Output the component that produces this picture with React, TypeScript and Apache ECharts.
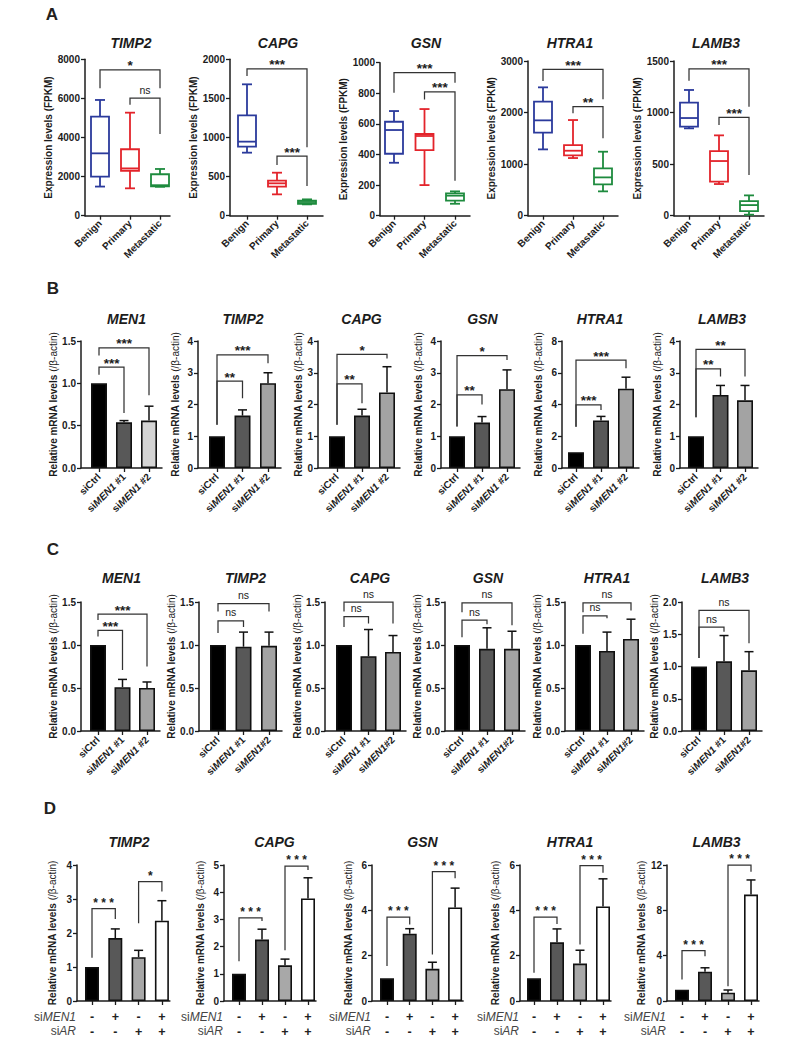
import React, { useEffect, useRef } from "react";
import * as echarts from "echarts";

const FONT = "'Liberation Sans', Arial, Helvetica, sans-serif";
const INK = "#1c1c1c";

// ================= Panel A: expression (FPKM) box plots =================
const groupsA = ["Benign", "Primary", "Metastatic"];
const genesA = ["TIMP2", "CAPG", "GSN", "HTRA1", "LAMB3"];
// [min, Q1, median, Q3, max]
const boxA_TIMP2 = [[1490, 2000, 3190, 5070, 5920], [1400, 2300, 2420, 3400, 5270], [1480, 1500, 1560, 2120, 2390]];
const boxA_CAPG = [[806, 883, 947, 1284, 1680], [273, 371, 414, 448, 550], [145, 150, 175, 192, 209]];
const boxA_GSN = [[346, 405, 560, 614, 684], [200, 429, 521, 534, 697], [78, 98, 131, 146, 159]];
const boxA_HTRA1 = [[1286, 1610, 1849, 2211, 2489], [1118, 1170, 1260, 1370, 1855], [472, 608, 743, 918, 1241]];
const boxA_LAMB3 = [[847, 863, 947, 1096, 1219], [307, 330, 530, 627, 779], [10, 45, 103, 142, 197]];
// brackets: [from, to, lineY, leftLegEnd, rightLegEnd]
const sigA_TIMP2 = [[0, 2, 7460, 6520, 6520], [1, 2, 6010, 5670, 4180]];
const sigA_CAPG = [[0, 2, 1876, 1787, 874], [1, 2, 763, 648, 380]];
const sigA_GSN = [[0, 2, 935, 804, 869], [1, 2, 810, 760, 229]];
const sigA_HTRA1 = [[0, 2, 2838, 2611, 2256], [1, 2, 2114, 1985, 1500]];
const sigA_LAMB3 = [[0, 2, 1423, 1309, 1057], [1, 2, 954, 879, 394]];
const sigLabA_TIMP2 = ["*", "ns"];
const sigLabA_CAPG = ["***", "***"];
const sigLabA_GSN = ["***", "***"];
const sigLabA_HTRA1 = ["***", "**"];
const sigLabA_LAMB3 = ["***", "***"];
const yMaxA = [8000, 2000, 1000, 3000, 1500];
const yStepA = [2000, 500, 200, 1000, 500];

// ================= Panel B: siMEN1 knockdown =================
const labelsB = ["siCtrl", "siMEN1 #1", "siMEN1 #2"];
const genesB = ["MEN1", "TIMP2", "CAPG", "GSN", "HTRA1", "LAMB3"];
const meanB_MEN1 = [1.0, 0.54, 0.56];
const errB_MEN1 = [null, 0.56, 0.73];
const meanB_TIMP2 = [1.0, 1.65, 2.67];
const errB_TIMP2 = [null, 1.83, 3.0];
const meanB_CAPG = [1.0, 1.65, 2.38];
const errB_CAPG = [null, 1.85, 3.19];
const meanB_GSN = [1.0, 1.43, 2.48];
const errB_GSN = [null, 1.62, 3.09];
const meanB_HTRA1 = [1.0, 3.0, 5.0];
const errB_HTRA1 = [null, 3.25, 5.72];
const meanB_LAMB3 = [1.0, 2.3, 2.13];
const errB_LAMB3 = [null, 2.6, 2.6];
const sigB_MEN1 = [[0, 2, 1.42, 1.33, 0.86], [0, 1, 1.19, 1.1, 0.65]];
const sigB_TIMP2 = [[0, 2, 3.56, 1.36, 3.3], [0, 1, 2.74, 1.36, 2.2]];
const sigB_CAPG = [[0, 2, 3.58, 1.36, 3.45], [0, 1, 2.65, 1.36, 2.04]];
const sigB_GSN = [[0, 2, 3.54, 1.31, 3.4], [0, 1, 2.3, 1.31, 2.0]];
const sigB_HTRA1 = [[0, 2, 6.8, 2.6, 6.28], [0, 1, 3.98, 2.6, 3.66]];
const sigB_LAMB3 = [[0, 2, 3.74, 1.6, 2.88], [0, 1, 3.12, 1.6, 2.88]];
const sigLabB_MEN1 = ["***", "***"];
const sigLabB_TIMP2 = ["***", "**"];
const sigLabB_CAPG = ["*", "**"];
const sigLabB_GSN = ["*", "**"];
const sigLabB_HTRA1 = ["***", "***"];
const sigLabB_LAMB3 = ["**", "**"];
const yMaxB = [1.5, 4, 4, 4, 8, 4];
const yStepB = [0.5, 1, 1, 1, 2, 1];
const yDecB = [1, 0, 0, 0, 0, 0];

// ================= Panel C =================
const labelsC_MEN1 = ["siCtrl", "siMEN1 #1", "siMEN1 #2"];
const labelsC_other = ["siCtrl", "siMEN1 #1", "siMEN1#2"];
const genesC = ["MEN1", "TIMP2", "CAPG", "GSN", "HTRA1", "LAMB3"];
const meanC_MEN1 = [1.0, 0.51, 0.5];
const errC_MEN1 = [null, 0.6, 0.57];
const meanC_TIMP2 = [1.0, 0.98, 0.99];
const errC_TIMP2 = [null, 1.15, 1.15];
const meanC_CAPG = [1.0, 0.87, 0.92];
const errC_CAPG = [null, 1.18, 1.11];
const meanC_GSN = [1.0, 0.955, 0.955];
const errC_GSN = [null, 1.2, 1.16];
const meanC_HTRA1 = [1.0, 0.93, 1.07];
const errC_HTRA1 = [null, 1.15, 1.3];
const meanC_LAMB3 = [1.0, 1.08, 0.94];
const errC_LAMB3 = [null, 1.48, 1.23];
const sigC_MEN1 = [[0, 2, 1.36, 1.29, 0.75], [0, 1, 1.17, 1.1, 0.71]];
const sigC_TIMP2 = [[0, 2, 1.48, 1.39, 1.39], [0, 1, 1.28, 1.14, 1.21]];
const sigC_CAPG = [[0, 2, 1.5, 1.39, 1.25], [0, 1, 1.33, 1.21, 1.25]];
const sigC_GSN = [[0, 2, 1.49, 1.38, 1.23], [0, 1, 1.29, 1.09, 1.24]];
const sigC_HTRA1 = [[0, 2, 1.49, 1.38, 1.4], [0, 1, 1.34, 1.13, 1.31]];
const sigC_LAMB3 = [[0, 2, 1.87, 1.13, 1.36], [0, 1, 1.61, 1.13, 1.54]];
const sigLabC_MEN1 = ["***", "***"];
const sigLabC_ns = ["ns", "ns"];
const yMaxC = [1.5, 1.5, 1.5, 1.5, 1.5, 2.0];
const yStepC = [0.5, 0.5, 0.5, 0.5, 0.5, 0.5];

// ================= Panel D: siMEN1 / siAR =================
const genesD = ["TIMP2", "CAPG", "GSN", "HTRA1", "LAMB3"];
const signMEN1 = ["-", "+", "-", "+"];
const signAR = ["-", "-", "+", "+"];
const meanD_TIMP2 = [1.0, 1.85, 1.29, 2.36];
const errD_TIMP2 = [null, 2.12, 1.49, 2.95];
const meanD_CAPG = [1.0, 2.26, 1.31, 3.77];
const errD_CAPG = [null, 2.64, 1.54, 4.53];
const meanD_GSN = [1.0, 2.97, 1.42, 4.13];
const errD_GSN = [null, 3.19, 1.71, 4.98];
const meanD_HTRA1 = [1.0, 2.59, 1.65, 4.17];
const errD_HTRA1 = [null, 3.18, 2.24, 5.39];
const meanD_LAMB3 = [1.0, 2.58, 0.73, 9.39];
const errD_LAMB3 = [null, 2.93, 0.97, 10.68];
const sigD_TIMP2 = [[0, 1, 2.72, 1.27, 2.41], [2, 3, 3.51, 2.29, 3.22]];
const sigD_CAPG = [[0, 1, 3.06, 1.46, 2.94], [2, 3, 4.96, 1.87, 4.82]];
const sigD_GSN = [[0, 1, 3.7, 1.54, 3.37], [2, 3, 5.71, 2.05, 5.42]];
const sigD_HTRA1 = [[0, 1, 3.7, 1.25, 3.4], [2, 3, 5.97, 2.49, 5.66]];
const sigD_LAMB3 = [[0, 1, 4.44, 1.9, 3.95], [2, 3, 12.0, 1.3, 11.4]];
const sigLabD_TIMP2 = ["***", "*"];
const sigLabD_all = ["***", "***"];
const yMaxD = [4, 5, 6, 6, 12];
const yStepD = [1, 1, 2, 2, 4];

// ================= Layout (pixels) =================
const layA = [
  { axisX: 85, c0: 100, sp: 30, endPad: 10, top: 59.3, tx: 131, nameCX: 52 },
  { axisX: 230, c0: 247, sp: 30, endPad: 16, top: 59.3, tx: 278, nameCX: 200 },
  { axisX: 380, c0: 394, sp: 30.5, endPad: 15, top: 62.7, tx: 426, nameCX: 346 },
  { axisX: 528, c0: 543, sp: 30, endPad: 15, top: 61, tx: 570, nameCX: 492 },
  { axisX: 674, c0: 689, sp: 30, endPad: 15, top: 61, tx: 716, nameCX: 639 },
];
const layB = [
  { axisX: 81, c0: 99, sp: 25, tx: 126.5, nameCX: 53 },
  { axisX: 198, c0: 217, sp: 25.5, tx: 243, nameCX: 175 },
  { axisX: 318, c0: 337, sp: 25, tx: 361.5, nameCX: 298 },
  { axisX: 441, c0: 457, sp: 25, tx: 482.5, nameCX: 418 },
  { axisX: 562, c0: 576, sp: 25, tx: 600, nameCX: 538 },
  { axisX: 680, c0: 696, sp: 24.5, tx: 722, nameCX: 657 },
];
const layC = [
  { axisX: 81, c0: 98, sp: 24.5, tx: 121.5, nameCX: 53 },
  { axisX: 199, c0: 218, sp: 25.5, tx: 245.5, nameCX: 175 },
  { axisX: 325, c0: 344, sp: 24.5, tx: 370, nameCX: 298 },
  { axisX: 445, c0: 462, sp: 25, tx: 488, nameCX: 418 },
  { axisX: 565, c0: 583, sp: 24, tx: 607, nameCX: 538 },
  { axisX: 682, c0: 699, sp: 25, tx: 725, nameCX: 657 },
];
const layD = [
  { axisX: 77, c0: 92, sp: 23.3, tx: 129, nameCX: 52 },
  { axisX: 224, c0: 239, sp: 23, tx: 274.5, nameCX: 200 },
  { axisX: 372, c0: 387, sp: 22.7, tx: 422.5, nameCX: 348 },
  { axisX: 520, c0: 534, sp: 23, tx: 570, nameCX: 495 },
  { axisX: 667, c0: 682, sp: 23, tx: 716.5, nameCX: 642 },
];

const boxColors = ["#2b3a9c", "#e3242b", "#1e8b3e"];
const barColsB_MEN1 = ["#000000", "#585858", "#d4d4d4"];
const barColsBC = ["#000000", "#585858", "#a3a3a3"];
const barColsD = ["#000000", "#585858", "#a8a8a8", "#ffffff"];

const TICK_FS = 10;
const NAME_FS = 10;

const richX = {
  b: { fontFamily: FONT, fontSize: 10, fontWeight: "bold", color: INK },
  i: { fontFamily: FONT, fontSize: 10, fontWeight: "bold", fontStyle: "italic", color: INK },
};
function fmtSi(s: string) {
  if (s.indexOf("siMEN1") === 0) {
    const rest = s.slice(6);
    return "{b|si}{i|MEN1}" + (rest ? "{b|" + rest + "}" : "");
  }
  return "{b|" + s + "}";
}

function txt(x: number, y: number, text: string, font: string, align = "center", fill = INK, rich?: any) {
  const style: any = {
    text, font, fill, align, verticalAlign: "middle", textAlign: align, textVerticalAlign: "middle",
  };
  if (rich) style.rich = rich;
  return { type: "text", x, y, silent: true, style };
}

function buildOption() {
  const grid: any[] = [];
  const xAxis: any[] = [];
  const yAxis: any[] = [];
  const series: any[] = [];
  const graphic: any[] = [];
  let gi = 0;

  const addAxes = (
    lay: any, n: number, endPad: number, top: number, bottom: number,
    ymax: number, ystep: number, ydec: number, xLabel: any, yName: string, yNameRich: any
  ) => {
    const last = lay.c0 + lay.sp * (n - 1);
    const endX = last + endPad;
    grid.push({
      left: lay.axisX, top, width: endX - lay.axisX, height: bottom - top,
      containLabel: false, outerBoundsMode: "none",
    });
    const ticks = Array.from({ length: n }, (_, i) => i);
    xAxis.push({
      type: "value", gridIndex: gi,
      min: -(lay.c0 - lay.axisX) / lay.sp, max: n - 1 + endPad / lay.sp,
      splitLine: { show: false },
      axisLine: { show: true, onZero: false, lineStyle: { color: INK, width: 1.5 } },
      axisTick: { show: true, customValues: ticks, length: 4, lineStyle: { color: INK, width: 1.3 } },
      axisLabel: Object.assign({ customValues: ticks }, xLabel),
    });
    yAxis.push({
      type: "value", gridIndex: gi, min: 0, max: ymax, interval: ystep,
      splitLine: { show: false },
      axisLine: { show: true, onZero: false, lineStyle: { color: INK, width: 1.5 } },
      axisTick: { show: true, length: 4, lineStyle: { color: INK, width: 1.3 } },
      axisLabel: {
        margin: 5, color: INK, fontFamily: FONT, fontSize: TICK_FS, fontWeight: "bold",
        formatter: (v: number) => v.toFixed(ydec),
      },
      name: yName, nameLocation: "middle", nameGap: lay.axisX - lay.nameCX - NAME_FS / 2,
      nameTextStyle: Object.assign(
        { fontFamily: FONT, fontSize: NAME_FS, fontWeight: "bold", color: INK },
        yNameRich ? { rich: yNameRich } : {}
      ),
    });
    const idx = gi;
    gi++;
    return idx;
  };

  const addSig = (idx: number, sig: number[][], labs: string[], dStyle: boolean) => {
    series.push({
      type: "custom", xAxisIndex: idx, yAxisIndex: idx, silent: true, z: 5,
      data: sig,
      renderItem: (params: any, api: any) => {
        const x1 = api.value(0), x2 = api.value(1), y = api.value(2), yl = api.value(3), yr = api.value(4);
        const p1 = api.coord([x1, yl]);
        const p2 = api.coord([x1, y]);
        const p3 = api.coord([x2, y]);
        const p4 = api.coord([x2, yr]);
        const lab = labs[params.dataIndex];
        let font: string, dy: number, text = lab;
        if (lab === "ns") {
          font = "10.5px " + FONT; dy = 8.5;
        } else if (dStyle) {
          font = "bold 12px " + FONT; dy = 6; text = lab.split("").join(" ");
        } else {
          font = "bold 13.5px " + FONT; dy = 4;
        }
        return {
          type: "group",
          children: [
            {
              type: "polyline", shape: { points: [p1, p2, p3, p4] },
              style: { stroke: "#333", lineWidth: 1.25, fill: "none" },
            },
            {
              type: "text", x: (p2[0] + p3[0]) / 2, y: p2[1] - dy,
              style: {
                text, font, fill: INK, align: "center", verticalAlign: "middle",
                textAlign: "center", textVerticalAlign: "middle",
              },
            },
          ],
        };
      },
    });
  };

  const addBars = (idx: number, means: number[], errs: (number | null)[], cols: string[], barW: number) => {
    series.push({
      type: "bar", xAxisIndex: idx, yAxisIndex: idx, silent: true, barWidth: barW,
      data: means.map((v, k) => ({
        value: [k, v],
        itemStyle: { color: cols[k], borderColor: "#111", borderWidth: 1.6 },
      })),
    });
    const eData: number[][] = [];
    errs.forEach((e, k) => { if (e != null) eData.push([k, means[k], e]); });
    series.push({
      type: "custom", xAxisIndex: idx, yAxisIndex: idx, silent: true, z: 4,
      data: eData,
      renderItem: (params: any, api: any) => {
        const x = api.value(0);
        const p0 = api.coord([x, api.value(1)]);
        const p1 = api.coord([x, api.value(2)]);
        return {
          type: "group",
          children: [
            { type: "line", shape: { x1: p0[0], y1: p0[1], x2: p1[0], y2: p1[1] }, style: { stroke: "#111", lineWidth: 1.5 } },
            { type: "line", shape: { x1: p1[0] - 4.5, y1: p1[1], x2: p1[0] + 4.5, y2: p1[1] }, style: { stroke: "#111", lineWidth: 1.5 } },
          ],
        };
      },
    });
  };

  // ---------- Panel A ----------
  const boxesA = [boxA_TIMP2, boxA_CAPG, boxA_GSN, boxA_HTRA1, boxA_LAMB3];
  const sigsA = [sigA_TIMP2, sigA_CAPG, sigA_GSN, sigA_HTRA1, sigA_LAMB3];
  const sigLabsA = [sigLabA_TIMP2, sigLabA_CAPG, sigLabA_GSN, sigLabA_HTRA1, sigLabA_LAMB3];
  const xLabA = {
    rotate: 45, margin: 6, fontFamily: FONT, fontSize: 10, fontWeight: "bold", color: INK,
    formatter: (v: number) => groupsA[Math.round(v)],
  };
  genesA.forEach((g, k) => {
    const lay = layA[k];
    const idx = addAxes(lay, 3, lay.endPad, lay.top, 215.7, yMaxA[k], yStepA[k], 0, xLabA, "Expression levels (FPKM)", null);
    series.push({
      type: "custom", xAxisIndex: idx, yAxisIndex: idx, silent: true, z: 3,
      data: boxesA[k].map((b, i) => [i, b[0], b[1], b[2], b[3], b[4]]),
      renderItem: (params: any, api: any) => {
        const x = api.value(0);
        const pMin = api.coord([x, api.value(1)]);
        const pQ1 = api.coord([x, api.value(2)]);
        const pMd = api.coord([x, api.value(3)]);
        const pQ3 = api.coord([x, api.value(4)]);
        const pMx = api.coord([x, api.value(5)]);
        const cx = pMin[0];
        const hw = 9, cw = 5;
        const c = boxColors[params.dataIndex];
        const st = () => ({ stroke: c, lineWidth: 1.8, fill: "none" });
        return {
          type: "group",
          children: [
            { type: "line", shape: { x1: cx, y1: pMin[1], x2: cx, y2: pQ1[1] }, style: st() },
            { type: "line", shape: { x1: cx, y1: pQ3[1], x2: cx, y2: pMx[1] }, style: st() },
            { type: "line", shape: { x1: cx - cw, y1: pMin[1], x2: cx + cw, y2: pMin[1] }, style: st() },
            { type: "line", shape: { x1: cx - cw, y1: pMx[1], x2: cx + cw, y2: pMx[1] }, style: st() },
            {
              type: "rect", shape: { x: cx - hw, y: pQ3[1], width: 2 * hw, height: pQ1[1] - pQ3[1] },
              style: { stroke: c, lineWidth: 1.8, fill: "#ffffff" },
            },
            { type: "line", shape: { x1: cx - hw, y1: pMd[1], x2: cx + hw, y2: pMd[1] }, style: st() },
          ],
        };
      },
    });
    addSig(idx, sigsA[k], sigLabsA[k], false);
    graphic.push(txt(lay.tx, 43, g, "italic bold 14px " + FONT));
  });

  const yNameRel = "{b|Relative mRNA levels }{n|(/β-actin)}";
  const yNameRelRich = {
    b: { fontFamily: FONT, fontSize: NAME_FS, fontWeight: "bold", color: INK },
    n: { fontFamily: FONT, fontSize: NAME_FS, fontWeight: "normal", color: INK },
  };

  // ---------- Panel B ----------
  const meansB = [meanB_MEN1, meanB_TIMP2, meanB_CAPG, meanB_GSN, meanB_HTRA1, meanB_LAMB3];
  const errsB = [errB_MEN1, errB_TIMP2, errB_CAPG, errB_GSN, errB_HTRA1, errB_LAMB3];
  const sigsB = [sigB_MEN1, sigB_TIMP2, sigB_CAPG, sigB_GSN, sigB_HTRA1, sigB_LAMB3];
  const sigLabsB = [sigLabB_MEN1, sigLabB_TIMP2, sigLabB_CAPG, sigLabB_GSN, sigLabB_HTRA1, sigLabB_LAMB3];
  const xLabB = {
    rotate: 45, margin: 7, rich: richX,
    formatter: (v: number) => fmtSi(labelsB[Math.round(v)]),
  };
  genesB.forEach((g, k) => {
    const lay = layB[k];
    const idx = addAxes(lay, 3, 13, 341, 468, yMaxB[k], yStepB[k], yDecB[k], xLabB, yNameRel, yNameRelRich);
    addBars(idx, meansB[k], errsB[k], k === 0 ? barColsB_MEN1 : barColsBC, 16);
    addSig(idx, sigsB[k], sigLabsB[k], false);
    graphic.push(txt(lay.tx, 319, g, "italic bold 14px " + FONT));
  });

  // ---------- Panel C ----------
  const meansC = [meanC_MEN1, meanC_TIMP2, meanC_CAPG, meanC_GSN, meanC_HTRA1, meanC_LAMB3];
  const errsC = [errC_MEN1, errC_TIMP2, errC_CAPG, errC_GSN, errC_HTRA1, errC_LAMB3];
  const sigsC = [sigC_MEN1, sigC_TIMP2, sigC_CAPG, sigC_GSN, sigC_HTRA1, sigC_LAMB3];
  genesC.forEach((g, k) => {
    const lay = layC[k];
    const labs = k === 0 ? labelsC_MEN1 : labelsC_other;
    const xLab = {
      rotate: 45, margin: 7, rich: richX,
      formatter: (v: number) => fmtSi(labs[Math.round(v)]),
    };
    const idx = addAxes(lay, 3, 13, 602, 731, yMaxC[k], yStepC[k], 1, xLab, yNameRel, yNameRelRich);
    addBars(idx, meansC[k], errsC[k], barColsBC, 16);
    addSig(idx, sigsC[k], k === 0 ? sigLabC_MEN1 : sigLabC_ns, false);
    graphic.push(txt(lay.tx, 578, g, "italic bold 14px " + FONT));
  });

  // ---------- Panel D ----------
  const meansD = [meanD_TIMP2, meanD_CAPG, meanD_GSN, meanD_HTRA1, meanD_LAMB3];
  const errsD = [errD_TIMP2, errD_CAPG, errD_GSN, errD_HTRA1, errD_LAMB3];
  const sigsD = [sigD_TIMP2, sigD_CAPG, sigD_GSN, sigD_HTRA1, sigD_LAMB3];
  const xLabD = {
    margin: 9, fontFamily: FONT, fontSize: 12.5, fontWeight: "bold", color: "#222", lineHeight: 14.5,
    formatter: (v: number) => signMEN1[Math.round(v)] + "\n" + signAR[Math.round(v)],
  };
  const rowRich = {
    n: { fontFamily: FONT, fontSize: 12, color: "#444" },
    i: { fontFamily: FONT, fontSize: 12, fontStyle: "italic", color: "#444" },
  };
  genesD.forEach((g, k) => {
    const lay = layD[k];
    const idx = addAxes(lay, 4, 8, 865, 1001, yMaxD[k], yStepD[k], 0, xLabD, yNameRel, yNameRelRich);
    addBars(idx, meansD[k], errsD[k], barColsD, 14);
    addSig(idx, sigsD[k], k === 0 ? sigLabD_TIMP2 : sigLabD_all, true);
    graphic.push(txt(lay.tx, 842, g, "italic bold 14px " + FONT));
    graphic.push(txt(lay.axisX - 1, 1017, "{n|si}{i|MEN1}", "12px " + FONT, "right", "#444", rowRich));
    graphic.push(txt(lay.axisX - 1, 1031, "{n|si}{i|AR}", "12px " + FONT, "right", "#444", rowRich));
  });

  // panel letters
  const letterFont = "bold 17px " + FONT;
  graphic.push(txt(52, 14, "A", letterFont, "center", "#231f20"));
  graphic.push(txt(53, 288, "B", letterFont, "center", "#231f20"));
  graphic.push(txt(53, 549, "C", letterFont, "center", "#231f20"));
  graphic.push(txt(50, 808, "D", letterFont, "center", "#231f20"));

  return {
    animation: false,
    backgroundColor: "#ffffff",
    textStyle: { fontFamily: FONT },
    grid, xAxis, yAxis, series, graphic,
  };
}

export default function App() {
  const ref = useRef<HTMLDivElement>(null);
  useEffect(() => {
    if (!ref.current) return;
    const chart = echarts.init(ref.current, null, { renderer: "svg" });
    chart.setOption(buildOption() as any);
    return () => chart.dispose();
  }, []);
  return (
    <div
      ref={ref}
      style={{ position: "absolute", left: 0, top: 0, width: 795, height: 1042, background: "#fff" }}
    />
  );
}
